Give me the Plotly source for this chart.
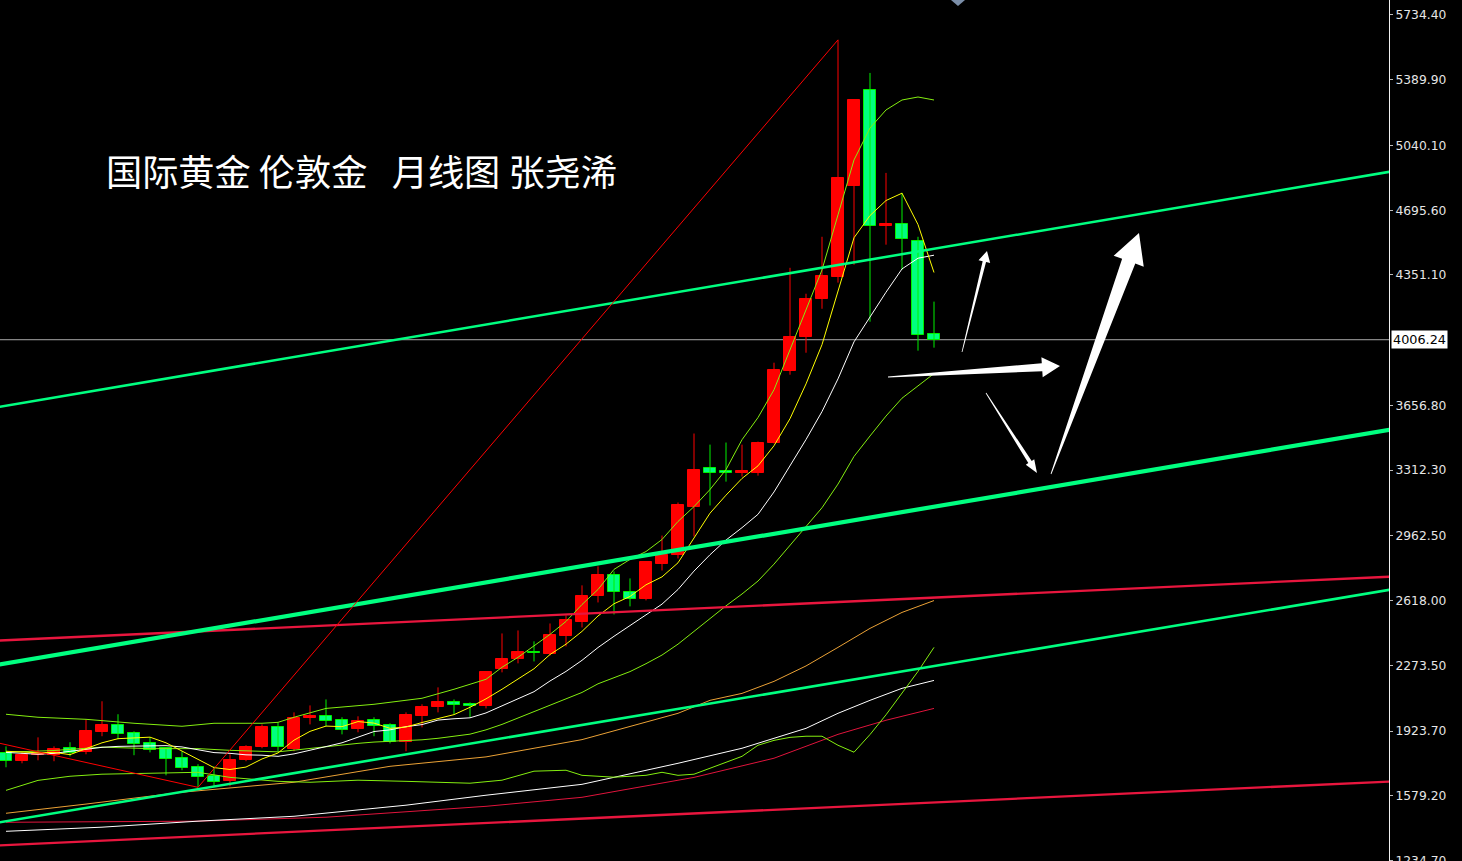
import math
import plotly.graph_objects as go

# ---------------- data (monthly London gold) ----------------
idx = list(range(59))
opens = [1805, 1763, 1795, 1795, 1832, 1810, 1917, 1954, 1912, 1858,
         1832, 1779, 1731, 1683, 1656, 1768, 1837, 1943, 1826, 1991,
         2002, 1981, 1933, 1981, 1954, 1864, 2002, 2050, 2076, 2066,
         2055, 2252, 2305, 2342, 2332, 2427, 2502, 2640, 2752, 2661,
         2629, 2815, 2858, 3118, 3321, 3310, 3299, 3299, 3459, 3842,
         4022, 4224, 4341, 4825, 5336, 4613, 4623, 4533, 4038]
highs = [1842, 1810, 1890, 1842, 1864, 1986, 2082, 2013, 1922, 1890,
         1832, 1816, 1747, 1736, 1800, 1848, 1959, 1970, 2023, 2060,
         2092, 1997, 2002, 1997, 1965, 2023, 2066, 2156, 2092, 2076,
         2241, 2443, 2459, 2401, 2496, 2539, 2699, 2800, 2773, 2736,
         2826, 2964, 3140, 3507, 3448, 3459, 3448, 3464, 3884, 4389,
         4251, 4554, 5602, 5282, 5426, 4894, 4788, 4554, 4209]
lows = [1731, 1752, 1768, 1763, 1789, 1800, 1896, 1880, 1795, 1810,
        1688, 1715, 1624, 1630, 1630, 1763, 1832, 1816, 1816, 1959,
        1949, 1906, 1917, 1896, 1858, 1816, 1943, 2023, 2013, 1997,
        2044, 2236, 2284, 2294, 2326, 2374, 2475, 2608, 2544, 2587,
        2619, 2778, 2842, 2959, 3124, 3251, 3278, 3283, 3454, 3820,
        3937, 4171, 4310, 4405, 4102, 4512, 4379, 3948, 3964]
closes = [1763, 1795, 1800, 1826, 1805, 1922, 1954, 1906, 1853, 1821,
          1773, 1725, 1677, 1651, 1768, 1837, 1943, 1837, 1991, 2002,
          1975, 1928, 1975, 1949, 1864, 2007, 2050, 2076, 2060, 2055,
          2236, 2305, 2342, 2337, 2433, 2512, 2645, 2752, 2661, 2629,
          2821, 2858, 3124, 3315, 3299, 3299, 3305, 3459, 3847, 4022,
          4224, 4347, 4868, 5282, 4613, 4623, 4543, 4033, 4006.24]
last_price = 4006.24

ma5 = [1816, 1812, 1808, 1810, 1798, 1830, 1861, 1883, 1888, 1891,
       1861, 1816, 1770, 1729, 1719, 1732, 1775, 1807, 1875, 1922,
       1950, 1947, 1974, 1966, 1938, 1945, 1969, 1989, 2011, 2050,
       2095, 2146, 2200, 2255, 2331, 2386, 2454, 2536, 2601, 2640,
       2702, 2744, 2819, 2949, 3083, 3179, 3268, 3335, 3442, 3586,
       3771, 3980, 4261, 4549, 4667, 4747, 4786, 4619, 4364]
ma10 = [1810, 1805, 1800, 1805, 1816, 1826, 1837, 1842, 1842, 1845,
        1846, 1839, 1826, 1809, 1805, 1797, 1795, 1789, 1802, 1820,
        1841, 1861, 1891, 1921, 1930, 1947, 1958, 1982, 1989, 1994,
        2020, 2058, 2094, 2133, 2190, 2241, 2300, 2368, 2428, 2485,
        2544, 2599, 2677, 2775, 2862, 2940, 3006, 3077, 3196, 3335,
        3475, 3624, 3798, 3995, 4127, 4259, 4383, 4440, 4456]

bb_mid_x = [0, 3, 6, 9, 12, 14, 17] + list(range(19, 59))
bb_mid = [1811, 1820, 1838, 1830, 1830, 1821, 1813,
          1832, 1843, 1850, 1858, 1865, 1868, 1872, 1877, 1885, 1895,
          1907, 1930, 1959, 1993, 2027, 2060, 2094, 2129, 2175, 2208,
          2240, 2282, 2328, 2386, 2454, 2526, 2590, 2653, 2722, 2812,
          2910, 3009, 3112, 3238, 3385, 3494, 3600, 3695, 3759, 3826]
bb_up_x = [0, 2, 5, 8, 11, 13, 16, 17, 18, 20, 23, 26, 28, 30, 31, 32, 34, 35, 36, 37,
           38, 39, 40, 41, 42, 43, 44, 45, 46, 47, 48, 49, 50, 51, 52, 53, 54, 55, 56, 57, 58]
bb_up = [2013, 1997, 1986, 1965, 1949, 1965, 1965, 1970, 1997, 2044,
         2066, 2098, 2146, 2199, 2263, 2316, 2438, 2507, 2597, 2677,
         2784, 2837, 2879, 2943, 3039, 3118, 3209, 3315, 3474, 3592,
         3740, 3953, 4165, 4378, 4671, 4963, 5133, 5229, 5282, 5298, 5282]
bb_low_x = [0, 2, 4, 6, 9, 12, 14, 17, 19, 22, 25, 29, 31, 33, 35, 36, 38, 40, 41, 42,
            43, 44, 45, 46, 47, 48, 49, 50, 51, 52, 53, 54, 55, 56, 57, 58]
bb_low = [1608, 1661, 1683, 1694, 1699, 1704, 1677, 1656, 1651, 1662,
          1656, 1646, 1662, 1710, 1715, 1688, 1678, 1688, 1704, 1688,
          1694, 1725, 1757, 1789, 1848, 1874, 1890, 1896, 1896, 1848,
          1811, 1905, 2010, 2124, 2241, 2369]

ma_orange_x = [0, 5, 11, 18, 24, 30, 36, 42, 44, 46, 48, 50, 52, 54, 56, 58]
ma_orange = [1486, 1535, 1598, 1651, 1736, 1786, 1878, 2018, 2087, 2124,
             2188, 2270, 2369, 2470, 2555, 2618]
ma_white2_x = [0, 6, 12, 18, 25, 30, 36, 42, 46, 50, 52, 54, 56, 58]
ma_white2 = [1390, 1412, 1444, 1470, 1529, 1582, 1640, 1752, 1832, 1938,
             2018, 2087, 2151, 2193]
ma_red_x = [0, 12, 20, 30, 36, 43, 48, 52, 55, 58]
ma_red = [1438, 1444, 1465, 1523, 1571, 1677, 1779, 1906, 1981, 2044]

zigzag_x = [-1, 12, 52]
zigzag_y = [1870, 1624, 5602]

# drawn channel lines: price at index -1 and index 88
trend_x = [-1, 88]
green_upper = [3641, 4922]
green_thick = [2269, 3549]
green_lower = [1429, 2697]
red_upper = [2403, 2751]
red_lower = [1313, 1661]

tick_vals = [5734.40, 5389.90, 5040.10, 4695.60, 4351.10, 3656.80, 3312.30,
             2962.50, 2618.00, 2273.50, 1923.70, 1579.20, 1234.70]

title_text = "国际黄金\u00a0伦敦金\u00a0\u00a0\u00a0月线图\u00a0张尧浠"

# ---------------- figure ----------------
PLOT_W, PLOT_H = 1389, 861
UP, DOWN_FILL, DOWN_LINE = '#ff0000', '#00ff80', '#00f000'
MIN_BODY = 6

fig = go.Figure()

# wicks
for up in (True, False):
    wx, wy = [], []
    for i, o, h, l, c in zip(idx, opens, highs, lows, closes):
        if (c >= o) == up:
            wx += [i, i, None]
            wy += [l, h, None]
    fig.add_trace(go.Scatter(x=wx, y=wy, mode='lines',
                             line=dict(color=UP if up else DOWN_LINE, width=1),
                             hoverinfo='skip'))
# bodies
for up in (True, False):
    bx, bbase, bh = [], [], []
    for i, o, c in zip(idx, opens, closes):
        if (c >= o) == up:
            bx.append(i)
            bbase.append(min(o, c))
            bh.append(max(abs(c - o), MIN_BODY))
    fig.add_trace(go.Bar(x=bx, y=bh, base=bbase, width=0.69,
                         marker=dict(color=UP if up else DOWN_FILL,
                                     line=dict(color=UP if up else DOWN_LINE, width=1)),
                         hoverinfo='skip'))

def line(x, y, color, width=1):
    fig.add_trace(go.Scatter(x=x, y=y, mode='lines', line=dict(color=color, width=width),
                             hoverinfo='skip'))

BB = '#84ee10'
line(ma_red_x, ma_red, '#e0143c')
line(ma_white2_x, ma_white2, '#ffffff')
line(ma_orange_x, ma_orange, '#eba236')
line(bb_low_x, bb_low, BB)
line(bb_up_x, bb_up, BB)
line(bb_mid_x, bb_mid, BB)
line(idx, ma10, '#ffffff')
line(idx, ma5, '#ffff00')

GREEN = '#00ff80'
RED = '#e8163e'
line(trend_x, red_upper, RED, 2.3)
line(trend_x, red_lower, RED, 2.3)
line(trend_x, green_upper, GREEN, 2.5)
line(trend_x, green_thick, GREEN, 4.2)
line(trend_x, green_lower, GREEN, 2.6)
line(zigzag_x, zigzag_y, '#ff0000', 1)

# ---------------- decorations ----------------
def to_paper(px, py):
    return px / PLOT_W, 1 - py / PLOT_H

def arrow_path(tail, tip, shaft_w, head_w, head_len, tail_w=0.8):
    tx, ty = tail
    hx, hy = tip
    dx, dy = hx - tx, hy - ty
    L = math.hypot(dx, dy)
    ux, uy = dx / L, dy / L
    nx, ny = -uy, ux
    bx, by = hx - ux * head_len, hy - uy * head_len
    pts = [(tx + nx * tail_w / 2, ty + ny * tail_w / 2),
           (bx + nx * shaft_w / 2, by + ny * shaft_w / 2),
           (bx + nx * head_w / 2, by + ny * head_w / 2),
           (hx, hy),
           (bx - nx * head_w / 2, by - ny * head_w / 2),
           (bx - nx * shaft_w / 2, by - ny * shaft_w / 2),
           (tx - nx * tail_w / 2, ty - ny * tail_w / 2)]
    s = ''
    for k, (px, py) in enumerate(pts):
        X, Y = to_paper(px, py)
        s += ('M' if k == 0 else 'L') + f'{X:.5f},{Y:.5f} '
    return s + 'Z'

arrows = [((962, 352), (987, 251), 3.5, 12, 11),
          ((888, 377), (1060, 366), 8, 20, 18),
          ((986, 393), (1037, 473), 4, 10, 13),
          ((1051, 474), (1139, 233), 14, 32, 30)]
shapes = [dict(type='line', xref='paper', x0=0, x1=1, yref='y', y0=last_price, y1=last_price,
               line=dict(color='#a9a9a9', width=1), layer='below')]
for a in arrows:
    shapes.append(dict(type='path', xref='paper', yref='paper', path=arrow_path(*a),
                       fillcolor='white', line=dict(width=0), layer='above'))
# small marker at the top edge
X1, Y1 = to_paper(951, 0)
X2, Y2 = to_paper(965, 0)
X3, Y3 = to_paper(958, 6)
shapes.append(dict(type='path', xref='paper', yref='paper',
                   path=f'M{X1},{Y1} L{X2},{Y2} L{X3},{Y3} Z',
                   fillcolor='#7b8ea8', line=dict(width=0)))

tx, ty = to_paper(104, 170)
annotations = [
    dict(x=tx, y=ty, xref='paper', yref='paper', xanchor='left', yanchor='middle',
         text=title_text, showarrow=False,
         font=dict(family='Noto Sans CJK SC', size=36.2, color='white')),
    dict(x=1, xref='paper', xanchor='left', xshift=2, y=last_price, yref='y',
         yanchor='middle', text=f'{last_price:.2f}', showarrow=False, bgcolor='white',
         borderpad=1, font=dict(family='DejaVu Sans', size=12.8, color='black')),
]

fig.update_layout(
    width=1462, height=861, margin=dict(l=0, r=1462 - PLOT_W, t=0, b=0),
    paper_bgcolor='black', plot_bgcolor='black', showlegend=False,
    barmode='overlay', bargap=0,
    xaxis=dict(range=[-0.375, 86.4375], visible=False, fixedrange=True),
    yaxis=dict(range=[1232.0, 5814.2], side='right', showgrid=False, zeroline=False,
               showline=True, linecolor='#f0f0f0', linewidth=1,
               ticks='outside', ticklen=3, tickcolor='#bbbbbb',
               tickvals=tick_vals, ticktext=[f'{v:.2f}' for v in tick_vals],
               tickfont=dict(family='DejaVu Sans', size=12.3, color='#e6e6e6'),
               ticklabeloverflow='allow',
               automargin=False, fixedrange=True),
    shapes=shapes, annotations=annotations,
)

fig.write_html('out.html')
